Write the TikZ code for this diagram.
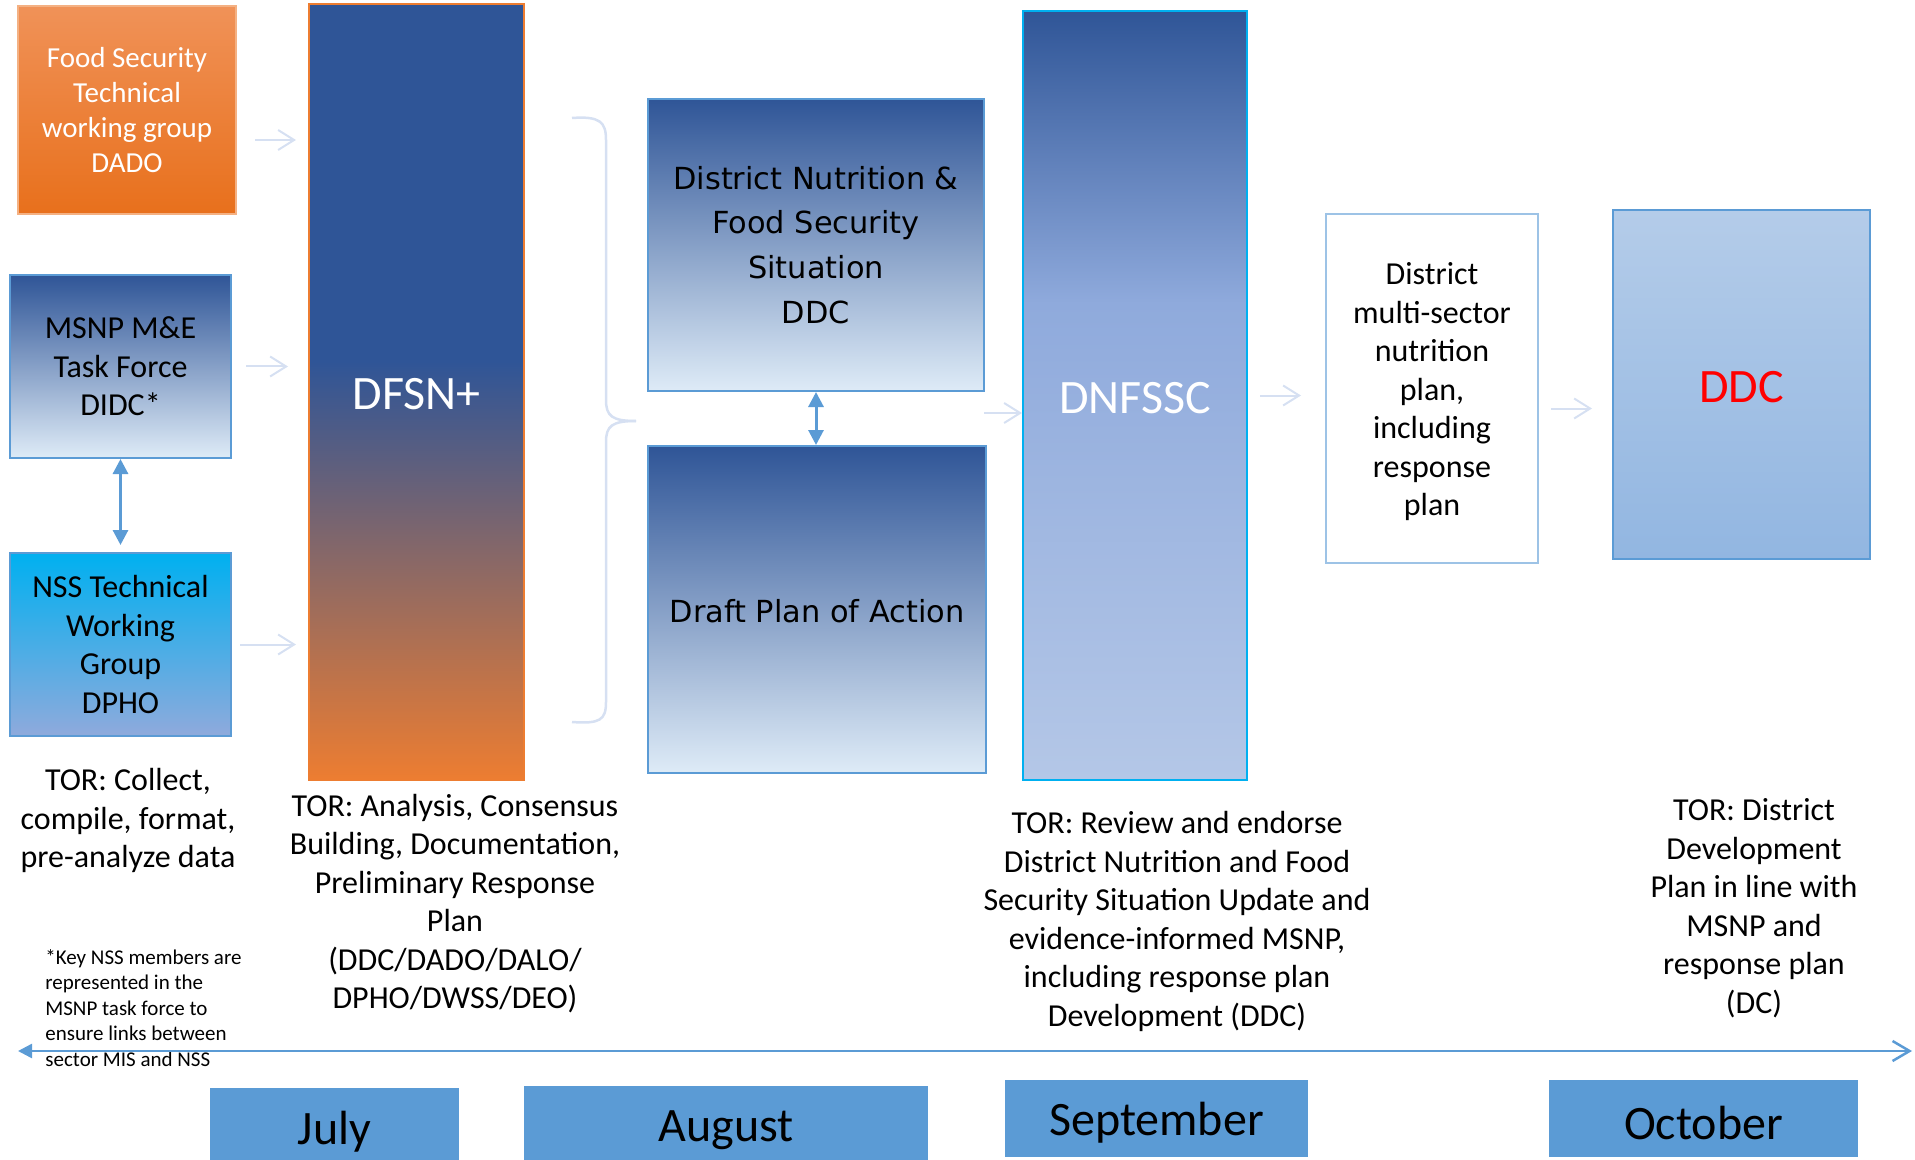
\documentclass[tikz,border=0pt]{standalone}
\usepackage{fontspec}
\setmainfont{Carlito}
\newfontfamily\wideface{DejaVu Sans}
\usetikzlibrary{arrows.meta}

\definecolor{darkblue}{RGB}{47,85,151}
\definecolor{paleblue}{RGB}{222,235,247}
\definecolor{lineblue}{RGB}{91,155,213}
\definecolor{skyblue}{RGB}{0,176,240}
\definecolor{lavblue}{RGB}{143,170,220}
\definecolor{mistblue}{RGB}{180,199,231}
\definecolor{edgeblue}{RGB}{157,195,230}
\definecolor{orangetop}{RGB}{240,146,88}
\definecolor{orangebot}{RGB}{232,112,28}
\definecolor{orangeline}{RGB}{237,125,49}
\definecolor{orangeedge}{RGB}{244,177,131}
\definecolor{arrowgrey}{RGB}{214,224,242}
\definecolor{ddctop}{RGB}{180,204,233}
\definecolor{ddcbot}{RGB}{146,182,225}

\pgfdeclareverticalshading{dfsnfade}{100bp}{color(0bp)=(orangeline); color(25bp)=(orangeline); color(52bp)=(darkblue); color(100bp)=(darkblue)}
\pgfdeclareverticalshading{dnfsscfade}{100bp}{color(0bp)=(mistblue); color(25bp)=(mistblue); color(56bp)=(lavblue); color(75bp)=(darkblue); color(100bp)=(darkblue)}

% lower a label a little without changing its centring box
\newcommand{\lowered}[2]{\raisebox{-#1}[\height][\depth]{#2}}

\begin{document}
\begin{tikzpicture}[x=0.5pt, y=-0.5pt,
  box/.style={draw, rectangle, line width=1pt, inner sep=0pt, align=center},
  txt/.style={font=\fontsize{16}{19.25}\selectfont, align=center},
  big/.style={font=\fontsize{24}{28}\selectfont},
  flow/.style={arrowgrey, line width=1pt, -{Straight Barb[length=8pt,width=10pt]}},
  link/.style={lineblue, line width=1.5pt, {Triangle[length=7.5pt,width=7.5pt]}-{Triangle[length=7.5pt,width=7.5pt]}},
  month/.style={fill=lineblue, inner sep=0pt, big}]

\useasboundingbox (0,0) rectangle (1915,1160);

% Define nodes
\node[box, draw=orangeedge, top color=orangetop, bottom color=orangebot, text=white, minimum width=109pt, minimum height=104pt, font=\fontsize{14.5}{17.6}\selectfont] (fsg) at (127,110) {Food Security\\Technical\\working group\\DADO};
\node[box, txt, draw=lineblue, top color=darkblue, bottom color=paleblue, minimum width=110.5pt, minimum height=91.5pt] (msnp) at (120.5,366.5) {MSNP M\&E\\Task Force\\DIDC*};
\node[box, txt, draw=lineblue, top color=skyblue, bottom color=lavblue, minimum width=110.5pt, minimum height=91.5pt] (nss) at (120.5,644.5) {NSS Technical\\Working\\Group\\DPHO};
\node[box, big, draw=orangeline, shading=dfsnfade, text=white, minimum width=107.5pt, minimum height=388pt] (dfsn) at (416.5,392) {\lowered{1.2pt}{DFSN+}};
\node[box, draw=lineblue, top color=darkblue, bottom color=paleblue, minimum width=168pt, minimum height=146pt, font=\wideface\fontsize{15.2}{22.4}\selectfont] (dns) at (816,245) {District Nutrition \&\\Food Security\\Situation\\DDC};
\node[box, draw=lineblue, top color=darkblue, bottom color=paleblue, minimum width=169pt, minimum height=163.5pt, font=\wideface\fontsize{15.2}{22.4}\selectfont] (dpa) at (817,609.5) {\lowered{1pt}{Draft Plan of Action}};
\node[box, big, draw=skyblue, shading=dnfsscfade, text=white, minimum width=112pt, minimum height=384.5pt] (dnfssc) at (1135,395.5) {\lowered{1.2pt}{DNFSSC}};
\node[box, txt, draw=edgeblue, fill=white, minimum width=106pt, minimum height=174.5pt] (dmsnp) at (1432,388.5) {\lowered{2pt}{\begin{tabular}{@{}c@{}}District\\multi-sector\\nutrition\\plan,\\including\\response\\plan\end{tabular}}};
\node[box, big, draw=lineblue, top color=ddctop, bottom color=ddcbot, text=red, minimum width=128.5pt, minimum height=174.5pt] (ddc) at (1741.5,384.5) {\lowered{1.2pt}{DDC}};

% Terms of reference
\node[txt] (tor1) at (128,820.5) {TOR: Collect,\\compile, format,\\pre-analyze data};
\node[txt] (tor2) at (455,903.5) {TOR: Analysis, Consensus\\Building, Documentation,\\Preliminary Response\\Plan\\(DDC/DADO/DALO/\\DPHO/DWSS/DEO)};
\node[txt] (tor3) at (1177,921.5) {TOR: Review and endorse\\District Nutrition and Food\\Security Situation Update and\\evidence-informed MSNP,\\including response plan\\Development (DDC)};
\node[txt] (tor4) at (1754,908) {TOR: District\\Development\\Plan in line with\\MSNP and\\response plan\\(DC)};
\node[anchor=west, align=left, inner sep=0pt, font=\fontsize{10.5}{12.8}\selectfont] (note) at (45,1008) {*Key NSS members are\\represented in the\\MSNP task force to\\ensure links between\\sector MIS and NSS};

% Months
\node[month, minimum width=124.5pt, minimum height=40pt] (jul) at (334.5,1128) {\lowered{2pt}{July}};
\node[month, minimum width=202pt, minimum height=40pt] (aug) at (726,1126) {\lowered{2pt}{August}};
\node[month, minimum width=151.5pt, minimum height=38.5pt] (sep) at (1156.5,1118.5) {\lowered{2pt}{September}};
\node[month, minimum width=154.5pt, minimum height=38.5pt] (oct) at (1703.5,1118.5) {\lowered{2pt}{October}};

% Free ends
\coordinate (fsgout) at ([yshift=-15pt]fsg.east);
\coordinate (planout) at ([yshift=-10pt]dmsnp.east);
\coordinate (join) at (984,413);
\coordinate (tstart) at (18,1051);
\coordinate (tend) at (1912,1051);

% Draw connectors
\draw[flow, shorten <=9pt, shorten >=6pt] (fsgout) -- (fsgout -| dfsn.west);
\draw[flow, shorten <=7pt, shorten >=10pt] (msnp.east) -- (msnp.east -| dfsn.west);
\draw[flow, shorten <=4pt, shorten >=6pt] (nss.east) -- (nss.east -| dfsn.west);
\draw[flow] (join) -- (join -| dnfssc.west);
\draw[flow, shorten <=6pt, shorten >=12pt] (dnfssc.east) -- (dnfssc.east -| dmsnp.west);
\draw[flow, shorten <=6pt, shorten >=10pt] (planout) -- (planout -| ddc.west);
\draw[link, shorten >=3.5pt] (msnp.south) -- (nss.north);
\draw[link] (dns.south) -- (dns.south |- dpa.north);

% Brace
\draw[arrowgrey, line width=1.25pt] (572,118) .. controls (600,116) and (606,122) .. (606,140) -- (606,400) .. controls (606,416) and (612,421) .. (636,421);
\draw[arrowgrey, line width=1.25pt] (636,421) .. controls (612,421) and (606,426) .. (606,442) -- (606,702) .. controls (606,720) and (600,724) .. (572,722);

% Timeline
\draw[lineblue, line width=1.25pt, {Triangle[length=7pt,width=7pt]}-{Straight Barb[length=8.5pt,width=10pt]}] (tstart) -- (tend);
\end{tikzpicture}
\end{document}
